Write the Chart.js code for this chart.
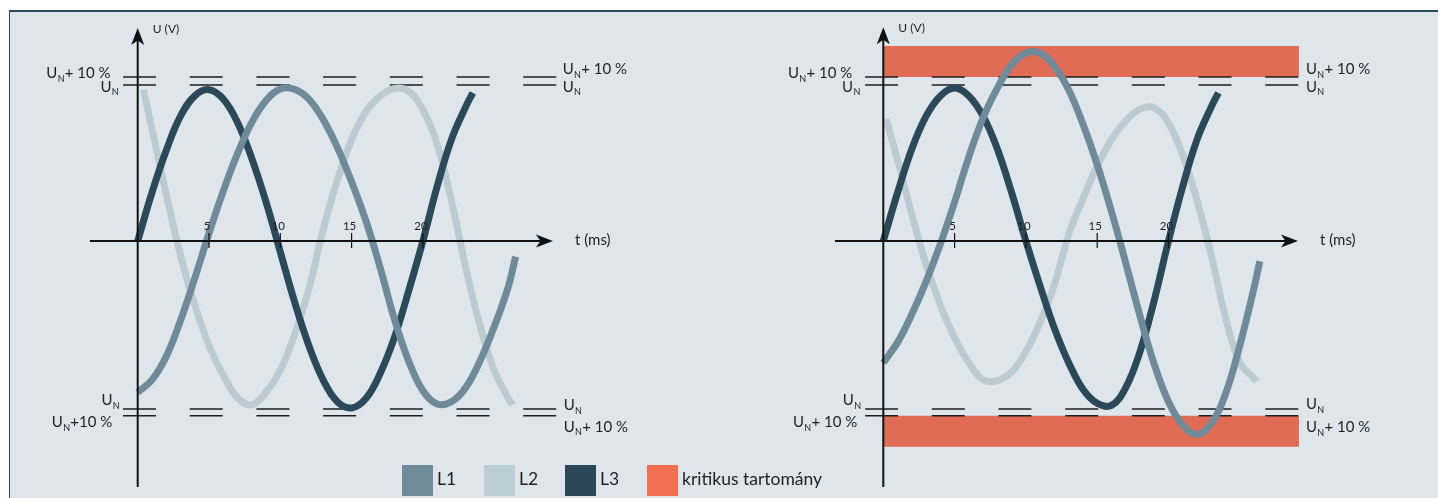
<!DOCTYPE html>
<html><head><meta charset="utf-8">
<script src="https://cdn.jsdelivr.net/npm/chart.js@4.4.1/dist/chart.umd.min.js"></script>
<style>
html,body{margin:0;padding:0;background:#fff;width:1438px;height:498px;overflow:hidden;}
#panel{position:absolute;left:9px;top:10px;width:1429px;height:488px;background:#dfe6eb;border-top:2px solid #2d4b5e;border-left:1.5px solid #2d4b5e;box-sizing:border-box;}
canvas{position:absolute;left:0;top:0;}
</style></head><body>
<div id="panel"></div>
<canvas id="cL" width="1438" height="498"></canvas>
<canvas id="cR" width="1438" height="498"></canvas>
<script>
// ---------- data (t in ms, U in % of U_N) ----------
const ticksMs = [5, 10, 15, 20];
const limitLevels = [105.1, 100, -107.7, -112];          // U_N+10% (top), U_N (top), U_N (bottom), U_N+10% (bottom)
const leftSideText  = [['+ 10 %', '', '', '+10 %'], ['+ 10 %', '', '', '+ 10 %']];
const rightSideText = [['+ 10 %', '', '', '+ 10 %'], ['+ 10 %', '', '', '+ 10 %']];
const bandUpper = [125, 105.1];
const bandLower = [-112, -131.9];
const legendLabels = ['L1', 'L2', 'L3', 'kritikus tartomány'];

// left panel (normal)
const leftL1_t = [0,1,2,3,4,5,6,7,8,9,10,11,12,13,14,15,16,17,18,19,20,21,22,23,24,25,26,26.5];
const leftL1_v = [-97,-89,-74,-51,-24,5,32,56,76,90,97.5,97.3,91,78,60,38,13,-17,-50,-77,-96,-104.5,-103,-94,-77,-55,-29,-10];
const leftL2_t = [0.4,1,2,3,4,5,6,7,8,9,10,11,12,13,14,15,16,17,18,19,20,21,22,23,24,25,26,26.3];
const leftL2_v = [97,72,30,-9,-41,-67,-86,-100.5,-105,-97,-83,-60,-31,7,39,65,83,93,97.8,96,84,62,26,-17,-54,-83,-101,-105];
const leftL3_t = [0,1,2,3,4,5,6,7,8,9,10,11,12,13,14,15,16,17,18,19,20,21,22,23,23.5];
const leftL3_v = [0,31,58,80,93,97,91,76,53,25,-7,-39,-67,-89,-103,-107,-101,-85,-62,-32,0,35,65,86,95];

// right panel (critical)
const rightL1_t = [0,1,2,3,4,5,6,7,8,9,10,11,12,13,14,15,16,17,18,19,20,21,22,23,24,25,26,26.4];
const rightL1_v = [-78,-65,-47,-26,-2,25,54,79,98,113,120.5,120.5,112,97,75,49,19,-14,-48,-79,-103,-118,-124,-117,-98,-67,-30,-13];
const rightL2_t = [0.2,1,2,3,4,5,6,7,8,9,10,11,12,13,14,15,16,17,18,19,20,21,22,23,24,25,26,26.2];
const rightL2_v = [78,52,17,-15,-41,-62,-78,-89,-89.5,-84,-71,-52,-28,4,27,48,65,77,84.5,85.4,75.5,55,26,-9,-49,-78,-88,-90];
const rightL3_t = [0,1,2,3,4,5,6,7,8,9,10,11,12,13,14,15,16,17,18,19,20,21,22,23,23.5];
const rightL3_v = [0,31,59,80,93,98,93,80,59,31,0,-29,-56,-78,-95,-104,-105.4,-94,-71,-38,0,35,65,86,95];

// ---------- styles / geometry ----------
const COL = {L1:'#6f8a98', L2:'#bccbd2', L3:'#2b4959', band:'#e06c55', ink:'#1f1f1f'};
const LEG_COL = ['#6f8a98','#bccdd4','#2c4858','#f26f50'];
const W = 1438, H = 498, PX_MS = 14.26, PX_U = 1.56, Y0 = 241;
const XMIN = -4, XMAX = 30.5, YMIN = -160, YMAX = 140;
const FONT = 'Lato, "Open Sans", sans-serif';
Chart.defaults.font.family = FONT;

const pts = (t, v) => t.map((x, i) => ({x, y: v[i]}));

function drawUN(ctx, x, y, suffix, align){
  const big = '15px ' + FONT, small = '9px ' + FONT;
  ctx.font = big; const wU = ctx.measureText('U').width; const wS = suffix ? ctx.measureText(suffix).width : 0;
  ctx.font = small; const wN = ctx.measureText('N').width;
  const w = wU + wN + wS;
  const sx = align === 'right' ? x - w : x;
  ctx.textAlign = 'left'; ctx.textBaseline = 'alphabetic';
  ctx.font = big; ctx.fillText('U', sx, y);
  ctx.font = small; ctx.fillText('N', sx + wU + 0.3, y + 3.5);
  if (suffix){ ctx.font = big; ctx.fillText(suffix, sx + wU + wN + 0.6, y); }
}

const decor = {
  id: 'decor',
  afterDatasetsDraw(chart, args, o){
    const ctx = chart.ctx, xs = chart.scales.x, ys = chart.scales.y;
    const x0 = xs.getPixelForValue(0), y0 = ys.getPixelForValue(0);
    ctx.save();
    ctx.strokeStyle = '#111'; ctx.fillStyle = '#111'; ctx.lineWidth = 2;
    // x axis + arrow
    const xa = xs.getPixelForValue(o.xAxis[0]), xb = xs.getPixelForValue(o.xAxis[1]);
    ctx.beginPath(); ctx.moveTo(xa, y0); ctx.lineTo(xb - 8, y0); ctx.stroke();
    ctx.beginPath(); ctx.moveTo(xb, y0); ctx.lineTo(xb - 17, y0 - 6.5); ctx.lineTo(xb - 12.5, y0); ctx.lineTo(xb - 17, y0 + 6.5); ctx.closePath(); ctx.fill();
    // y axis + arrow
    const ya = ys.getPixelForValue(o.yAxis[1]), yb = ys.getPixelForValue(o.yAxis[0]);
    ctx.beginPath(); ctx.moveTo(x0, yb); ctx.lineTo(x0, ya + 8); ctx.stroke();
    ctx.beginPath(); ctx.moveTo(x0, ya); ctx.lineTo(x0 - 6.5, ya + 17); ctx.lineTo(x0, ya + 12.5); ctx.lineTo(x0 + 6.5, ya + 17); ctx.closePath(); ctx.fill();
    // ticks
    ctx.lineWidth = 1.2;
    ctx.font = '11.5px ' + FONT; ctx.textAlign = 'center'; ctx.textBaseline = 'alphabetic';
    ctx.fillStyle = COL.ink;
    ticksMs.forEach(t => {
      const px = xs.getPixelForValue(t);
      ctx.beginPath(); ctx.moveTo(px, y0 - 8); ctx.lineTo(px, y0 + 7); ctx.stroke();
      ctx.fillText(String(t), px - 2, y0 - 11);
    });
    // axis titles
    ctx.textAlign = 'left';
    ctx.font = '12px ' + FONT; ctx.fillText('U (V)', x0 + 15, ya + 5);
    ctx.font = '15px ' + FONT; ctx.fillText('t (ms)', xb + 22, y0 + 3.5);
    // U_N labels
    const dEnd = xs.getPixelForValue(o.dash[1]);
    o.left.forEach((l, i) => drawUN(ctx, x0 + l[0], ys.getPixelForValue(limitLevels[i]) + l[1], o.textL[i], 'right'));
    o.right.forEach((l, i) => drawUN(ctx, dEnd + l[0], ys.getPixelForValue(limitLevels[i]) + l[1], o.textR[i], 'left'));
    ctx.restore();
  }
};

const legendPlugin = {
  id: 'legendBoxes',
  afterDraw(chart, args, o){
    if (!o.show) return;
    const ctx = chart.ctx;
    ctx.save();
    ctx.font = '17.5px ' + FONT; ctx.textBaseline = 'alphabetic'; ctx.textAlign = 'left';
    const xs = [402, 484, 565, 647];
    legendLabels.forEach((lab, i) => {
      ctx.fillStyle = LEG_COL[i]; ctx.fillRect(xs[i], 465, 31, 31);
      ctx.fillStyle = COL.ink; ctx.fillText(lab, xs[i] + 35, 485);
    });
    ctx.restore();
  }
};

function makeChart(id, originX, s, o){
  const datasets = [];
  const lineDs = (label, data, color, order) => ({label, data, borderColor: color, backgroundColor: color, borderWidth: 7,
    pointRadius: 0, tension: 0.4, fill: false, order});
  datasets.push(lineDs('L1', pts(s.L1t, s.L1v), COL.L1, 1));
  datasets.push(lineDs('L3', pts(s.L3t, s.L3v), COL.L3, 2));
  datasets.push(lineDs('L2', pts(s.L2t, s.L2v), COL.L2, 3));
  limitLevels.forEach((lv, i) => datasets.push({label: 'lim' + i,
    data: [{x: o.dash[0], y: lv}, {x: o.dash[1], y: lv}], borderColor: COL.ink, borderWidth: 1.5,
    borderDash: [33, 33.7], pointRadius: 0, fill: false, order: 4}));
  if (o.band){
    datasets.push({label: 'kritikus tartomány', data: [{x: 0, y: bandUpper[0]}, {x: o.dash[1], y: bandUpper[0]}],
      borderWidth: 0, borderColor: 'rgba(0,0,0,0)', backgroundColor: COL.band, pointRadius: 0, fill: {value: bandUpper[1]}, order: 5});
    datasets.push({label: 'kritikus tartomány 2', data: [{x: 0, y: bandLower[0]}, {x: o.dash[1], y: bandLower[0]}],
      borderWidth: 0, borderColor: 'rgba(0,0,0,0)', backgroundColor: COL.band, pointRadius: 0, fill: {value: bandLower[1]}, order: 5});
  }
  const padL = originX + XMIN * PX_MS, padR = W - (originX + XMAX * PX_MS);
  const padT = Y0 - YMAX * PX_U, padB = H - (Y0 - YMIN * PX_U);
  return new Chart(document.getElementById(id), {
    type: 'line',
    data: {datasets},
    options: {
      responsive: false, animation: false, events: [],
      layout: {padding: {left: padL, right: padR, top: padT, bottom: padB}},
      scales: {
        x: {type: 'linear', min: XMIN, max: XMAX, display: false},
        y: {type: 'linear', min: YMIN, max: YMAX, display: false}
      },
      plugins: {legend: {display: false}, tooltip: {enabled: false},
        decor: o, legendBoxes: {show: !!o.legend}}
    },
    plugins: [decor, legendPlugin]
  });
}

const charts = [];
charts.push(makeChart('cL', 137.7,
  {L1t: leftL1_t, L1v: leftL1_v, L2t: leftL2_t, L2v: leftL2_v, L3t: leftL3_t, L3v: leftL3_v},
  {xAxis: [-3.35, 29.12], yAxis: [-157.7, 136.5], dash: [-1.03, 29.38], band: false, legend: false,
   textL: leftSideText[0], textR: rightSideText[0],
   left: [[-27.7, 1], [-19.4, 6.7], [-18.4, -4], [-26, 11.6]],
   right: [[6, -2.7], [6, 6.7], [7, 1], [7, 16]]}));
charts.push(makeChart('cR', 883.3,
  {L1t: rightL1_t, L1v: rightL1_v, L2t: rightL2_t, L2v: rightL2_v, L3t: rightL3_t, L3v: rightL3_v},
  {xAxis: [-3.39, 29.08], yAxis: [-157.7, 137], dash: [-1.28, 29.15], band: true, legend: true,
   textL: leftSideText[1], textR: rightSideText[1],
   left: [[-31.6, 1.3], [-23.3, 6.7], [-22.6, -4], [-26.6, 11.6]],
   right: [[7, -3], [7, 6.7], [7, 0], [7, 16.3]]}));
if (document.fonts && document.fonts.ready) document.fonts.ready.then(() => charts.forEach(c => c.update()));
</script>
</body></html>
